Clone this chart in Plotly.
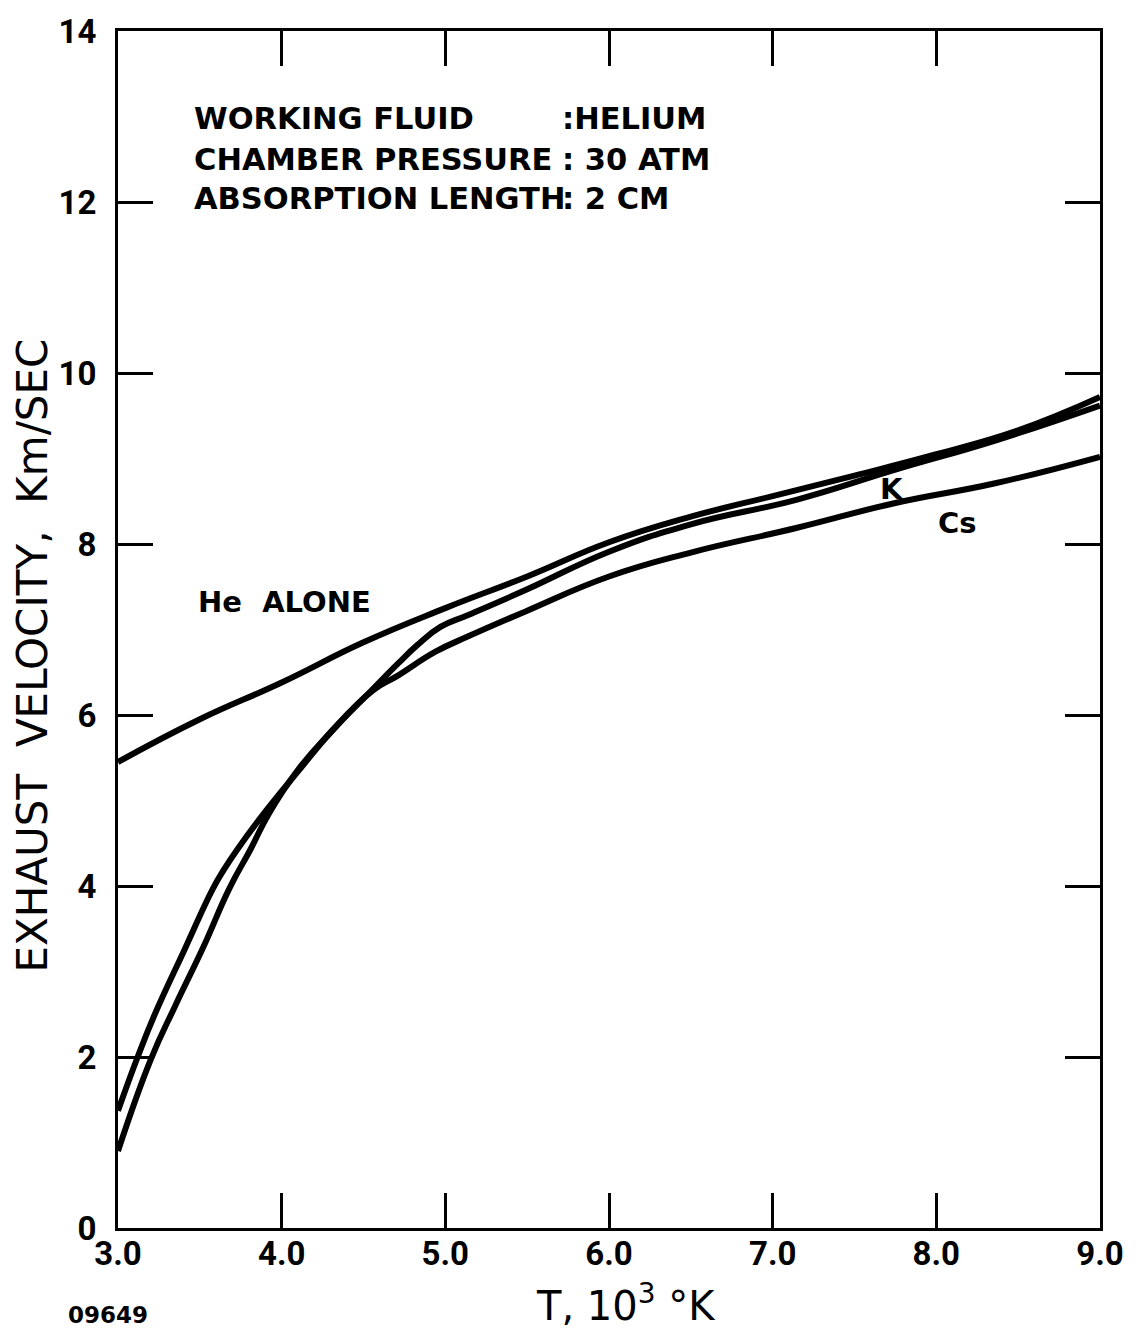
import plotly.graph_objects as go

# Temperature (10^3 K) and exhaust velocity (km/s)
t_he = [3.0, 3.5, 4.0, 4.5, 5.0, 5.5, 6.0, 6.5, 7.0, 7.5, 8.0, 8.5, 9.0]
v_he = [5.45, 5.95, 6.38, 6.85, 7.25, 7.62, 8.02, 8.32, 8.56, 8.8, 9.05, 9.33, 9.72]

t_k = [3.0, 3.2, 3.35, 3.52, 3.68, 3.81, 3.92, 4.1, 4.31, 4.56, 4.71, 4.83, 4.97,
       5.14, 5.5, 6.0, 6.5, 7.15, 7.75, 8.36, 9.0]
v_k = [0.9, 1.97, 2.6, 3.28, 3.97, 4.43, 4.84, 5.36, 5.82, 6.31, 6.6, 6.82, 7.03,
       7.17, 7.47, 7.91, 8.23, 8.52, 8.87, 9.21, 9.62]

t_cs = [3.0, 3.12, 3.225, 3.41, 3.58, 3.65, 3.73, 3.88, 4.1, 4.31, 4.56, 4.71, 4.94,
        5.14, 5.5, 6.0, 6.5, 7.15, 7.75, 8.36, 9.0]
v_cs = [1.37, 2.0, 2.5, 3.27, 3.97, 4.2, 4.43, 4.82, 5.34, 5.82, 6.29, 6.46, 6.74,
        6.92, 7.22, 7.62, 7.9, 8.19, 8.48, 8.71, 9.02]

x_ticks = [3.0, 4.0, 5.0, 6.0, 7.0, 8.0, 9.0]
y_ticks = [0, 2, 4, 6, 8, 10, 12, 14]

LABEL = "DejaVu Sans"
TICK = "Roboto"
curve = dict(color="black", width=6, shape="spline", smoothing=1.3)

fig = go.Figure()
for name, t, v in [("He ALONE", t_he, v_he), ("K", t_k, v_k), ("Cs", t_cs, v_cs)]:
    fig.add_trace(go.Scatter(x=t, y=v, mode="lines", name=name, line=curve,
                             showlegend=False, hoverinfo="skip"))

axis_common = dict(
    showline=True, linecolor="black", linewidth=3, mirror="ticks",
    ticks="inside", ticklen=35, tickwidth=2.5, tickcolor="black",
    showgrid=False, zeroline=False,
    tickfont=dict(family=TICK, size=33, color="black", weight="bold"),
)

fig.update_xaxes(range=[3.0, 9.0], tickvals=x_ticks,
                 ticktext=[f"{v:.1f}" for v in x_ticks], ticklabelstandoff=-6,
                 **axis_common)
fig.update_yaxes(range=[0, 14], tickvals=y_ticks,
                 ticktext=[str(v) for v in y_ticks], ticklabelstandoff=12,
                 **axis_common)

annots = []
# Run conditions block, colons aligned in a second column
head_font = dict(family=LABEL, size=30.5, color="black", weight="bold")
rows = [("WORKING FLUID", ":HELIUM", 12.98),
        ("CHAMBER PRESSURE", ": 30 ATM", 12.5),
        ("ABSORPTION LENGTH", ": 2 CM", 12.04)]
for left, right, y in rows:
    annots.append(dict(x=3.45, y=y, text=left, xanchor="left", yanchor="middle",
                       showarrow=False, font=head_font))
    annots.append(dict(x=5.7, y=y, text=right, xanchor="left", yanchor="middle",
                       showarrow=False, font=head_font))

# Curve labels
for txt, x, y in [("He  ALONE", 4.02, 7.32), ("K", 7.73, 8.64), ("Cs", 8.13, 8.25)]:
    annots.append(dict(x=x, y=y, text=txt, showarrow=False,
                       font=dict(family=LABEL, size=29, color="black", weight="bold")))

# Axis titles and drawing number
annots.append(dict(x=0, xref="paper", xanchor="center", xshift=-86,
                   y=0.5, yref="paper", yshift=-26,
                   text="EXHAUST  VELOCITY,  Km/SEC", textangle=-90, showarrow=False,
                   font=dict(family="DejaVu Sans", size=42, color="black")))
annots.append(dict(x=0.5, xref="paper", xshift=17, y=-0.0623, yref="paper",
                   text="T, 10<sup>3</sup> °K", showarrow=False, yanchor="middle",
                   font=dict(family="DejaVu Sans", size=40, color="black")))
annots.append(dict(x=0, xref="paper", xshift=-52, y=-0.0725, yref="paper",
                   text="09649", showarrow=False, yanchor="middle", xanchor="left",
                   font=dict(family=LABEL, size=23, color="black", weight="bold")))

fig.update_layout(
    width=1136, height=1332,
    margin=dict(l=118, r=31, t=25, b=104),
    paper_bgcolor="white", plot_bgcolor="white",
    annotations=annots,
)

fig.write_html("out.html")
